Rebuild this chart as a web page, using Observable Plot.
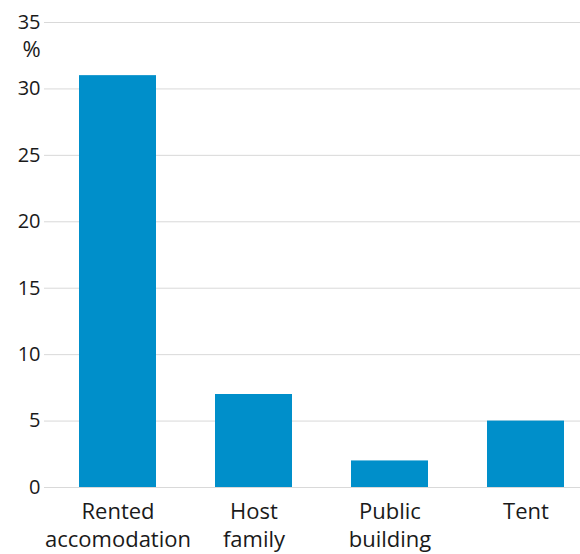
<!DOCTYPE html>
<html><head><meta charset="utf-8">
<script src="https://cdn.jsdelivr.net/npm/d3@7"></script>
<script src="https://cdn.jsdelivr.net/npm/@observablehq/plot@0.6"></script>
<style>body{margin:0;background:#fff;} svg{display:block;}</style>
</head><body><div id="chart"></div>
<script>
const categories = ["Rented\naccomodation", "Host\nfamily", "Public\nbuilding", "Tent"];
const values = [31, 7, 2, 5];
const yTicks = [0, 5, 10, 15, 20, 25, 30, 35];
const data = categories.map((c, i) => ({cat: c, v: values[i]}));
const font = "'Open Sans', 'Noto Sans', sans-serif";
const chart = Plot.plot({
  width: 580, height: 554,
  marginTop: 22, marginBottom: 67, marginLeft: 44, marginRight: 0,
  style: {fontFamily: font, color: "#1a1a1a", background: "#fff"},
  x: {domain: categories, range: [48.24, 594.24], paddingInner: 0.436, paddingOuter: 0.218, label: null},
  y: {domain: [0, 35], ticks: yTicks, label: null},
  marks: [
    Plot.gridY(yTicks, {stroke: "#d9d9d9", strokeOpacity: 1, strokeWidth: 1}),
    Plot.barY(data, {x: "cat", y: "v", fill: "#008fca"}),
    Plot.axisY(yTicks, {tickSize: 0, tickPadding: 4, fontSize: 20, label: null}),
    Plot.axisX({tickSize: 0, tickPadding: 12, fontSize: 22, lineHeight: 1.25, label: null}),
    Plot.text(["%"], {frameAnchor: "top-left", textAnchor: "middle", lineAnchor: "middle", dx: -13, dy: 27, fontSize: 22, fill: "#1a1a1a"})
  ]
});
document.getElementById("chart").appendChild(chart);
</script></body></html>
